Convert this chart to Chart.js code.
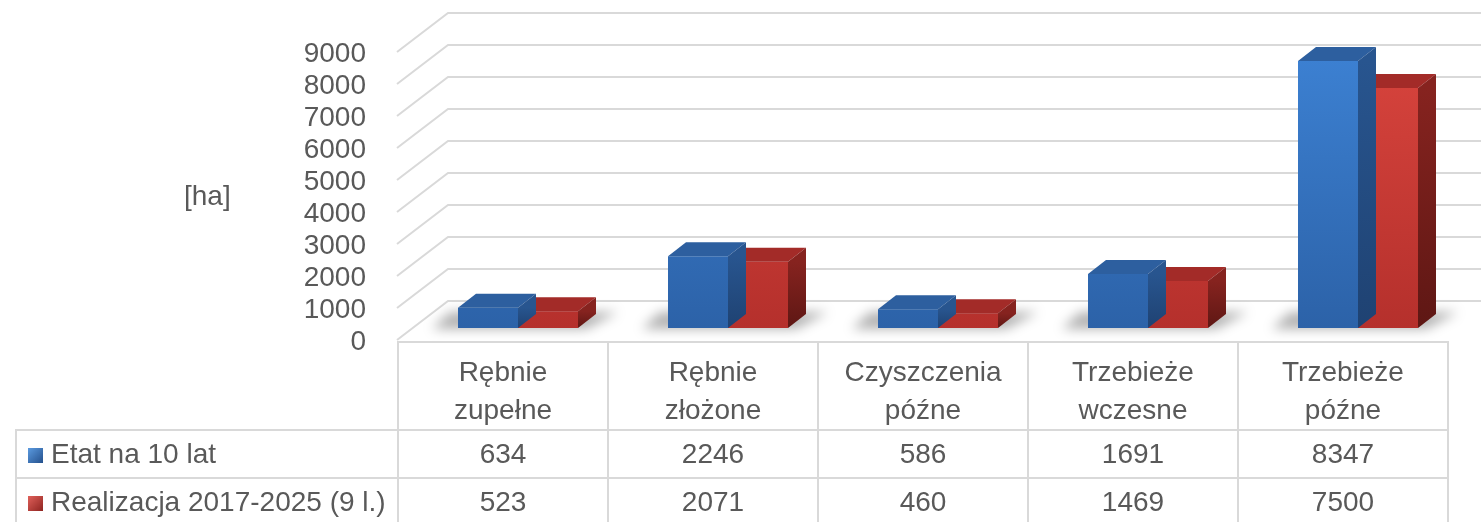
<!DOCTYPE html>
<html lang="pl">
<head>
<meta charset="utf-8">
<title>Etat i realizacja</title>
<script src="https://cdn.jsdelivr.net/npm/chart.js@4.4.1/dist/chart.umd.min.js"></script>
<style>
    body { margin: 0; background: #fff; overflow: hidden; }
    #wrap { position: relative; width: 1481px; height: 522px; font-family: 'Liberation Sans', Arial, sans-serif; color: #595959; }
    #chart { position: absolute; left: 0; top: 0; }
    #unit { position: absolute; left: 184px; top: 180px; font-size: 28px; }
    #tbl { position: absolute; left: 15px; top: 341px; border-collapse: collapse; table-layout: fixed; font-size: 28px; }
    #tbl th, #tbl td { border: 2px solid #d9d9d9; text-align: center; font-weight: normal; padding: 0; white-space: nowrap; }
    #tbl th { height: 82px; line-height: 38px; vertical-align: top; padding-top: 10px; box-sizing: border-box; }
    #tbl td { height: 46px; }
    #tbl th.lead { border-top: none; border-left: none; }
    #tbl td.name { text-align: left; padding-left: 11px; }
    .key { display: inline-block; width: 15px; height: 15px; margin-right: 8px; vertical-align: 0; }
</style>
</head>
<body>
<div id="wrap">
    <canvas id="chart" width="1481" height="522"></canvas>
    <div id="unit">[ha]</div>
    <table id="tbl"></table>
</div>
<script>
// dane
const categories = [
    ['Rębnie', 'zupełne'],
    ['Rębnie', 'złożone'],
    ['Czyszczenia', 'późne'],
    ['Trzebieże', 'wczesne'],
    ['Trzebieże', 'późne']
];
const seriesNames = ['Etat na 10 lat', 'Realizacja 2017-2025 (9 l.)'];
const etat = [634, 2246, 586, 1691, 8347];
const realizacja = [523, 2071, 460, 1469, 7500];
const yTicks = [0, 1000, 2000, 3000, 4000, 5000, 6000, 7000, 8000, 9000];

// kolory ścian słupków 3D
const faces = [
    { front: ['#3d82d4', '#2c62a8'], top: '#2d5f9f', side: ['#28558f', '#1f4272'], key: ['#5b9be0', '#24508c'] },
    { front: ['#d9453e', '#b5302c'], top: '#a32b28', side: ['#86231f', '#5e1714'], key: ['#e0605a', '#8e2420'] }
];
const depthX = 18, depthY = 14;

// tabela danych
function buildTable() {
    const tbl = document.getElementById('tbl');
    let html = '<colgroup><col style="width:382px">';
    categories.forEach(() => { html += '<col style="width:210px">'; });
    html += '</colgroup><tr><th class="lead"></th>';
    categories.forEach(c => { html += '<th>' + c.join('<br>') + '</th>'; });
    html += '</tr>';
    [etat, realizacja].forEach((vals, i) => {
        const f = faces[i].key;
        html += '<tr><td class="name"><span class="key" style="background:linear-gradient(135deg,' + f[0] + ',' + f[1] + ')"></span>' + seriesNames[i] + '</td>';
        vals.forEach(v => { html += '<td>' + v + '</td>'; });
        html += '</tr>';
    });
    tbl.innerHTML = html;
}

function frontFill(i) {
    return function(context) {
        const area = context.chart.chartArea;
        if (!area) return faces[i].front[0];
        const g = context.chart.ctx.createLinearGradient(0, area.top, 0, area.bottom);
        g.addColorStop(0, faces[i].front[0]);
        g.addColorStop(1, faces[i].front[1]);
        return g;
    };
}

// ściany, cienie i boki słupków
const bars3d = {
    id: 'bars3d',
    beforeDatasetsDraw(chart) {
        const { ctx, chartArea, scales: { y } } = chart;
        ctx.save();
        ctx.strokeStyle = '#d9d9d9';
        ctx.lineWidth = 2;
        yTicks.forEach(v => {
            const py = y.getPixelForValue(v);
            ctx.beginPath();
            ctx.moveTo(chartArea.left - 16, py + 12);
            ctx.lineTo(chartArea.left + 35, py - 27);
            ctx.lineTo(chart.width, py - 27);
            ctx.stroke();
        });
        ctx.filter = 'blur(6px)';
        ctx.fillStyle = 'rgba(0, 0, 0, 0.3)';
        const a = chart.getDatasetMeta(0).data;
        const b = chart.getDatasetMeta(1).data;
        a.forEach((bar, i) => {
            const x0 = bar.x - bar.width / 2;
            const x1 = b[i].x + b[i].width / 2;
            const base = bar.base;
            ctx.beginPath();
            ctx.moveTo(x0 - 26, base + 1);
            ctx.lineTo(x1 + 8, base + 1);
            ctx.lineTo(x1 + depthX + 22, base - depthY - 2);
            ctx.lineTo(x0 - 8, base - depthY - 2);
            ctx.closePath();
            ctx.fill();
        });
        ctx.restore();
    },
    afterDatasetDraw(chart, args) {
        const ctx = chart.ctx;
        const f = faces[args.index];
        ctx.save();
        args.meta.data.forEach(bar => {
            const x0 = bar.x - bar.width / 2;
            const x1 = bar.x + bar.width / 2;
            const top = bar.y, base = bar.base;
            ctx.fillStyle = f.top;
            ctx.beginPath();
            ctx.moveTo(x0, top);
            ctx.lineTo(x1, top);
            ctx.lineTo(x1 + depthX, top - depthY);
            ctx.lineTo(x0 + depthX, top - depthY);
            ctx.closePath();
            ctx.fill();
            const g = ctx.createLinearGradient(0, top, 0, base);
            g.addColorStop(0, f.side[0]);
            g.addColorStop(1, f.side[1]);
            ctx.fillStyle = g;
            ctx.beginPath();
            ctx.moveTo(x1, top);
            ctx.lineTo(x1 + depthX, top - depthY);
            ctx.lineTo(x1 + depthX, base - depthY);
            ctx.lineTo(x1, base);
            ctx.closePath();
            ctx.fill();
        });
        ctx.restore();
    }
};

function createChart() {
    new Chart(document.getElementById('chart'), {
        type: 'bar',
        data: {
            labels: categories,
            datasets: [
                { label: seriesNames[0], data: etat, backgroundColor: frontFill(0), borderWidth: 0 },
                { label: seriesNames[1], data: realizacja, backgroundColor: frontFill(1), borderWidth: 0 }
            ]
        },
        options: {
            responsive: false,
            animation: false,
            categoryPercentage: 120 / 210,
            barPercentage: 1,
            layout: { padding: { top: 40, bottom: 194, left: 0, right: 18 } },
            plugins: { legend: { display: false }, tooltip: { enabled: false } },
            scales: {
                x: { display: false },
                y: {
                    min: 0,
                    max: 9000,
                    afterFit: function(scale) {
                        scale.width = 413;
                        scale.paddingTop = 0;
                        scale.paddingBottom = 0;
                    },
                    grid: { display: false, drawTicks: false, tickLength: 0 },
                    border: { display: false },
                    ticks: {
                        stepSize: 1000,
                        autoSkip: false,
                        padding: 47,
                        labelOffset: 14,
                        color: '#595959',
                        font: { family: 'Liberation Sans', size: 28 },
                        callback: function(value) {
                            return String(value);
                        }
                    }
                }
            }
        },
        plugins: [bars3d]
    });
}

buildTable();
createChart();
</script>
</body>
</html>
